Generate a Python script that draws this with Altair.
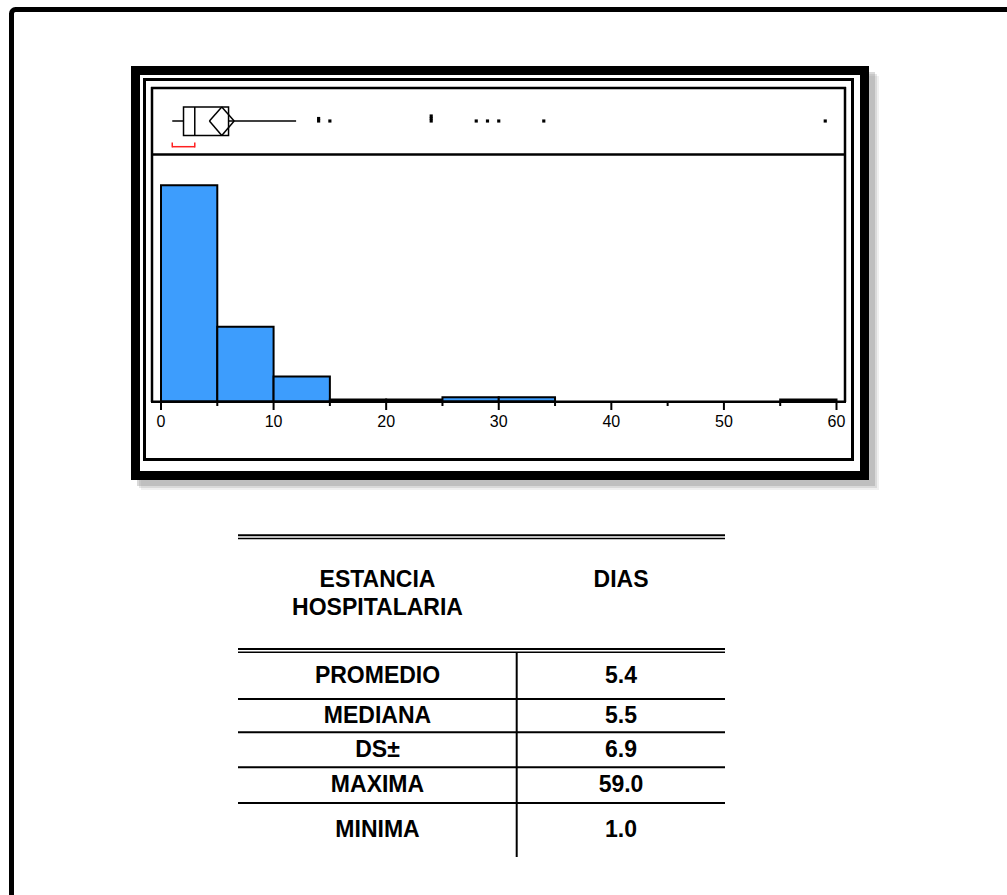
import altair as alt
import pandas as pd

# ---------------- data ----------------
bin_starts = [0, 5, 10, 15, 20, 25, 30, 35, 40, 45, 50, 55]
bin_counts = [104, 36, 12, 1, 1, 2, 2, 0, 0, 0, 0, 1]
bin_width = 5
major_ticks = [0, 10, 20, 30, 40, 50, 60]
minor_ticks = [5, 15, 25, 35, 45, 55]
box_min, box_q1, box_median, box_q3, box_whisker_high = 1, 2, 3, 6, 12
mean_value = 5.4
mean_ci_half = 1.1
shortest_half = [1, 3]
outliers = [14, 14, 15, 24, 24, 24, 28, 29, 30, 34, 59]
header_left = "ESTANCIA\nHOSPITALARIA"
header_right = "DIAS"
stat_labels = ["PROMEDIO", "MEDIANA", "DS±", "MAXIMA", "MINIMA"]
stat_values = ["5.4", "5.5", "6.9", "59.0", "1.0"]

FONT = "Liberation Sans"
BAR_COLOR = "#3d9dfd"

hist_df = pd.DataFrame({
    "start": bin_starts,
    "end": [s + bin_width for s in bin_starts],
    "count": bin_counts,
    "base": [0] * len(bin_starts),
})
hist_df = hist_df[hist_df["count"] > 0]

xs = alt.Scale(domain=[0, 60], range=[161, 836.5], nice=False, zero=False)
ys = alt.Scale(domain=[0, 104], range=[401.5, 185.3], nice=False)

one = alt.Data(values=[{}])


def box(x1, y1, x2, y2, **kw):
    return alt.Chart(one).mark_rect(**kw).encode(
        x=alt.value(x1), x2=alt.value(x2), y=alt.value(y1), y2=alt.value(y2))


def hline(x1, x2, y, w=2, color="black"):
    return alt.Chart(one).mark_rule(color=color, strokeWidth=w).encode(
        x=alt.value(x1), x2=alt.value(x2), y=alt.value(y))


def vline(x, y1, y2, w=2, color="black"):
    return alt.Chart(one).mark_rule(color=color, strokeWidth=w).encode(
        x=alt.value(x), y=alt.value(y1), y2=alt.value(y2))


layers = []

# page border (runs off the right and bottom edges)
layers.append(box(11.5, 9.5, 1040, 940, fill=None, stroke="black",
                  strokeWidth=5, cornerRadius=4))

# shadow of the chart frame
for off, op in [(10, 0.12), (8, 0.2), (6, 0.3)]:
    layers.append(box(131 + off, 66 + off, 869 + off, 480 + off,
                      fill="#808080", opacity=op))
# thick outer frame
layers.append(box(135.5, 70.5, 864.5, 475.5, fill="white", stroke="black",
                  strokeWidth=9))
# middle frame
layers.append(box(144.5, 79.5, 852.5, 459.5, fill=None, stroke="black",
                  strokeWidth=3))
# plot box: top, separator, sides
layers.append(hline(151, 846, 88, w=2.5))
layers.append(hline(151, 846, 154.5, w=2.5))
layers.append(vline(152, 87, 402, w=2.5))
layers.append(vline(845, 87, 402, w=2.5))

# histogram bars
layers.append(alt.Chart(hist_df).mark_rect(
    fill=BAR_COLOR, stroke="black", strokeWidth=2).encode(
    x=alt.X("start:Q", scale=xs, axis=None),
    x2="end:Q",
    y=alt.Y("count:Q", scale=ys, axis=None),
    y2="base:Q",
))

# x axis line, ticks and labels
layers.append(hline(151, 846, 401.7, w=2.5))
layers.append(alt.Chart(pd.DataFrame({"tick": major_ticks})).mark_rule(
    color="black", strokeWidth=2).encode(
    x=alt.X("tick:Q", scale=xs, axis=None), y=alt.value(401), y2=alt.value(410)))
layers.append(alt.Chart(pd.DataFrame({"tick": minor_ticks})).mark_rule(
    color="black", strokeWidth=2).encode(
    x=alt.X("tick:Q", scale=xs, axis=None), y=alt.value(401), y2=alt.value(406)))
layers.append(alt.Chart(pd.DataFrame({"tick": major_ticks})).mark_text(
    font=FONT, fontSize=16, color="black", align="center", baseline="middle").encode(
    x=alt.X("tick:Q", scale=xs, axis=None), y=alt.value(421.5), text="tick:Q"))

# box plot
BOX_TOP, BOX_BOT, BOX_MID = 107, 135.5, 121
layers.append(alt.Chart(pd.DataFrame({"a": [box_min, box_q3], "b": [box_q1, box_whisker_high]}))
              .mark_rule(color="black", strokeWidth=1.5).encode(
    x=alt.X("a:Q", scale=xs, axis=None), x2="b:Q", y=alt.value(BOX_MID)))
layers.append(alt.Chart(pd.DataFrame({"q1": [box_q1], "q3": [box_q3]})).mark_rect(
    fill=None, stroke="black", strokeWidth=1.5).encode(
    x=alt.X("q1:Q", scale=xs, axis=None), x2="q3:Q",
    y=alt.value(BOX_TOP), y2=alt.value(BOX_BOT)))
layers.append(alt.Chart(pd.DataFrame({"m": [box_median]})).mark_rule(
    color="black", strokeWidth=1.5).encode(
    x=alt.X("m:Q", scale=xs, axis=None), y=alt.value(BOX_TOP), y2=alt.value(BOX_BOT)))
diamond_df = pd.DataFrame({"tip": [mean_value - mean_ci_half, mean_value + mean_ci_half],
                           "mid": [mean_value, mean_value]})
for yy in (BOX_TOP, BOX_BOT):
    layers.append(alt.Chart(diamond_df).mark_rule(color="black", strokeWidth=1.5).encode(
        x=alt.X("tip:Q", scale=xs, axis=None), x2="mid:Q",
        y=alt.value(BOX_MID), y2=alt.value(yy)))
# shortest half bracket (red)
sh_df = pd.DataFrame({"lo": [shortest_half[0]], "hi": [shortest_half[1]]})
layers.append(alt.Chart(sh_df).mark_rule(color="#ff2020", strokeWidth=1.5).encode(
    x=alt.X("lo:Q", scale=xs, axis=None), x2="hi:Q", y=alt.value(146.7)))
layers.append(alt.Chart(pd.DataFrame({"e": shortest_half})).mark_rule(
    color="#ff2020", strokeWidth=1.5).encode(
    x=alt.X("e:Q", scale=xs, axis=None), y=alt.value(142.5), y2=alt.value(147.4)))
# outliers, stacked when repeated
layers.append(alt.Chart(pd.DataFrame({"value": outliers})).transform_window(
    rank="row_number()", groupby=["value"]).mark_square(
    size=10, color="black", opacity=1).encode(
    x=alt.X("value:Q", scale=xs, axis=None),
    y=alt.Y("rank:Q", scale=alt.Scale(domain=[1, 3], range=[121, 116]), axis=None)))

# ---------------- table ----------------
TX1, TX2, TXV = 238, 725, 516.7
COL_L, COL_R = 377.5, 621
layers.append(hline(TX1, TX2, 535.3, w=2))
layers.append(hline(TX1, TX2, 538.5, w=1.5))
layers.append(hline(TX1, TX2, 649, w=2))
layers.append(hline(TX1, TX2, 652.3, w=1.5))
row_edges = [652.3, 699, 732.3, 767.3, 803, 857]
for y in row_edges[1:-1]:
    layers.append(hline(TX1, TX2, y, w=2))
layers.append(vline(TXV, 652, 857, w=2))

text_kw = dict(font=FONT, fontSize=23, fontWeight="bold", color="black",
               align="center", baseline="middle")
layers.append(alt.Chart(pd.DataFrame({"t": [header_left]})).mark_text(
    lineBreak="\n", lineHeight=28, **text_kw).encode(
    x=alt.value(COL_L), y=alt.value(580), text="t:N"))
layers.append(alt.Chart(pd.DataFrame({"t": [header_right]})).mark_text(**text_kw).encode(
    x=alt.value(COL_R), y=alt.value(580), text="t:N"))
for i, (lab, val) in enumerate(zip(stat_labels, stat_values)):
    yc = (row_edges[i] + row_edges[i + 1]) / 2
    df = pd.DataFrame({"label": [lab], "value": [val]})
    layers.append(alt.Chart(df).mark_text(**text_kw).encode(
        x=alt.value(COL_L), y=alt.value(yc), text="label:N"))
    layers.append(alt.Chart(df).mark_text(**text_kw).encode(
        x=alt.value(COL_R), y=alt.value(yc), text="value:N"))

chart = alt.layer(*layers).resolve_scale(y="independent").properties(
    width=1007, height=895, padding=0,
    autosize=alt.AutoSizeParams(type="none"),
    background="white",
).configure_view(stroke=None)

chart.save("out.html", embed_options={"renderer": "svg", "actions": False})
